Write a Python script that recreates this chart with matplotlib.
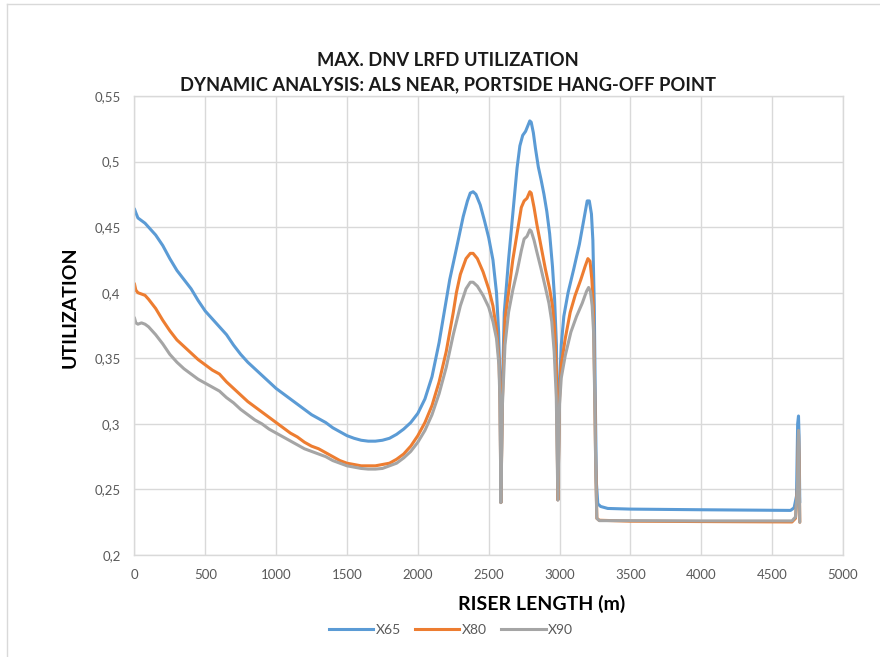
import matplotlib
matplotlib.use("Agg")
import matplotlib.pyplot as plt
from matplotlib.ticker import FuncFormatter, MultipleLocator
from matplotlib.lines import Line2D

plt.rcParams['font.family'] = ['Lato', 'DejaVu Sans']

# Riser length (m) and max utilization per steel grade
x65_len = [0, 10, 25, 50, 75, 100, 150, 200, 250, 300, 350, 400, 450, 500, 550, 600, 650,
           700, 750, 800, 850, 900, 950, 1000, 1050, 1100, 1150, 1200, 1250, 1300, 1350,
           1400, 1450, 1500, 1550, 1600, 1650, 1700, 1750, 1800, 1850, 1900, 1950, 2000,
           2050, 2100, 2150, 2178, 2225, 2272, 2320, 2350, 2370, 2390, 2410, 2440, 2470,
           2500, 2530, 2555, 2570, 2580, 2586, 2597, 2610, 2640, 2670, 2700, 2720, 2740,
           2760, 2775, 2790, 2800, 2815, 2830, 2850, 2870, 2890, 2910, 2930, 2950, 2965,
           2978, 2988, 3000, 3012, 3030, 3060, 3100, 3140, 3170, 3195, 3210, 3225, 3235,
           3245, 3252, 3260, 3270, 3290, 3340, 3500, 4000, 4630, 4655, 4672, 4680, 4686,
           4690, 4695]
x65_util = [0.464, 0.461, 0.457, 0.455, 0.453, 0.450, 0.444, 0.436, 0.426, 0.417, 0.410,
            0.403, 0.394, 0.386, 0.380, 0.374, 0.368, 0.360, 0.353, 0.347, 0.342, 0.337,
            0.332, 0.327, 0.323, 0.319, 0.315, 0.311, 0.307, 0.304, 0.301, 0.297, 0.294,
            0.291, 0.289, 0.2875, 0.2868, 0.2868, 0.2875, 0.289, 0.292, 0.296, 0.301,
            0.308, 0.319, 0.336, 0.362, 0.380, 0.410, 0.4335, 0.458, 0.470, 0.476, 0.477,
            0.475, 0.467, 0.455, 0.442, 0.425, 0.400, 0.370, 0.330, 0.240, 0.330, 0.385,
            0.425, 0.460, 0.495, 0.512, 0.520, 0.523, 0.527, 0.531, 0.530, 0.522, 0.510,
            0.496, 0.486, 0.475, 0.462, 0.445, 0.420, 0.395, 0.360, 0.242, 0.330, 0.360,
            0.382, 0.400, 0.418, 0.437, 0.455, 0.470, 0.470, 0.460, 0.440, 0.390, 0.320,
            0.255, 0.239, 0.237, 0.2355, 0.235, 0.2345, 0.234, 0.236, 0.245, 0.300, 0.306,
            0.290, 0.240]

x80_len = [0, 10, 25, 50, 75, 100, 150, 200, 250, 300, 350, 400, 450, 500, 550, 600, 650,
           700, 750, 800, 850, 900, 950, 1000, 1050, 1100, 1150, 1200, 1250, 1300, 1350,
           1400, 1450, 1500, 1550, 1600, 1650, 1700, 1750, 1800, 1850, 1900, 1950, 2000,
           2050, 2100, 2150, 2200, 2250, 2272, 2300, 2340, 2370, 2390, 2420, 2460, 2500,
           2530, 2555, 2572, 2580, 2586, 2597, 2615, 2640, 2670, 2700, 2730, 2750, 2770,
           2790, 2800, 2820, 2840, 2870, 2900, 2930, 2950, 2965, 2978, 2988, 3000, 3012,
           3040, 3075, 3110, 3150, 3180, 3200, 3215, 3228, 3238, 3246, 3255, 3263, 3280,
           3500, 4000, 4640, 4665, 4678, 4686, 4690, 4695]
x80_util = [0.407, 0.402, 0.400, 0.399, 0.398, 0.395, 0.388, 0.379, 0.371, 0.364, 0.359,
            0.354, 0.349, 0.345, 0.341, 0.338, 0.332, 0.327, 0.322, 0.317, 0.313, 0.309,
            0.305, 0.301, 0.297, 0.293, 0.290, 0.286, 0.283, 0.281, 0.278, 0.275, 0.272,
            0.270, 0.269, 0.268, 0.268, 0.268, 0.269, 0.270, 0.273, 0.277, 0.283, 0.291,
            0.301, 0.314, 0.332, 0.355, 0.385, 0.400, 0.414, 0.426, 0.430, 0.430, 0.426,
            0.416, 0.403, 0.390, 0.372, 0.350, 0.320, 0.240, 0.320, 0.380, 0.400, 0.425,
            0.445, 0.465, 0.470, 0.472, 0.477, 0.476, 0.465, 0.452, 0.435, 0.418, 0.403,
            0.390, 0.372, 0.340, 0.242, 0.320, 0.345, 0.365, 0.385, 0.398, 0.410, 0.420,
            0.426, 0.424, 0.410, 0.390, 0.340, 0.270, 0.228, 0.2265, 0.2258, 0.2255,
            0.2252, 0.228, 0.250, 0.292, 0.270, 0.225]

x90_len = [0, 10, 25, 50, 75, 100, 150, 200, 250, 300, 350, 400, 450, 500, 550, 600, 650,
           700, 750, 800, 850, 900, 950, 1000, 1050, 1100, 1150, 1200, 1250, 1300, 1350,
           1400, 1450, 1500, 1550, 1600, 1650, 1700, 1750, 1800, 1850, 1900, 1950, 2000,
           2050, 2100, 2150, 2200, 2250, 2300, 2340, 2370, 2390, 2420, 2460, 2500, 2530,
           2555, 2572, 2580, 2586, 2597, 2615, 2640, 2670, 2700, 2730, 2750, 2770, 2790,
           2800, 2820, 2840, 2870, 2900, 2925, 2945, 2962, 2977, 2988, 3000, 3012, 3040,
           3080, 3120, 3160, 3190, 3205, 3218, 3230, 3240, 3248, 3256, 3263, 3280, 3500,
           4000, 4640, 4665, 4678, 4686, 4690, 4695]
x90_util = [0.381, 0.377, 0.376, 0.377, 0.376, 0.374, 0.368, 0.361, 0.353, 0.347, 0.342,
            0.338, 0.334, 0.331, 0.328, 0.325, 0.320, 0.316, 0.311, 0.307, 0.303, 0.300,
            0.296, 0.293, 0.290, 0.287, 0.284, 0.281, 0.279, 0.277, 0.275, 0.272, 0.270,
            0.268, 0.267, 0.266, 0.2655, 0.2655, 0.266, 0.268, 0.270, 0.274, 0.279, 0.286,
            0.295, 0.307, 0.323, 0.343, 0.368, 0.390, 0.403, 0.408, 0.408, 0.405, 0.398,
            0.389, 0.378, 0.365, 0.345, 0.315, 0.240, 0.315, 0.360, 0.385, 0.402, 0.416,
            0.432, 0.441, 0.443, 0.448, 0.447, 0.440, 0.431, 0.418, 0.404, 0.392, 0.378,
            0.355, 0.320, 0.242, 0.315, 0.335, 0.352, 0.370, 0.382, 0.392, 0.401, 0.404,
            0.401, 0.390, 0.370, 0.320, 0.260, 0.228, 0.2262, 0.2262, 0.226, 0.226, 0.229,
            0.250, 0.295, 0.270, 0.225]

series_names = ['X65', 'X80', 'X90']
series_colors = ['#5B9BD5', '#ED7D31', '#A5A5A5']

W, H = 880, 657
fig = plt.figure(figsize=(W / 100, H / 100), dpi=100)
fig.patch.set_facecolor('white')

# Plot area in pixel coordinates
left, right, top, bottom = 134.4, 843, 96, 555
ax = fig.add_axes([left / W, 1 - bottom / H, (right - left) / W, (bottom - top) / H])

for xs, ys, name, col in zip([x65_len, x80_len, x90_len],
                             [x65_util, x80_util, x90_util],
                             series_names, series_colors):
    ax.plot(xs, ys, color=col, lw=2.2, label=name,
            solid_joinstyle='round', solid_capstyle='round')

ax.set_xlim(0, 5000)
ax.set_ylim(0.2, 0.55)
ax.xaxis.set_major_locator(MultipleLocator(500))
ax.yaxis.set_major_locator(MultipleLocator(0.05))
ax.yaxis.set_major_formatter(FuncFormatter(lambda v, p: f"{round(v, 2):g}".replace('.', ',')))
ax.xaxis.set_major_formatter(FuncFormatter(lambda v, p: f"{int(round(v))}"))
ax.grid(True, color='#D9D9D9', lw=1.0)
ax.set_axisbelow(True)
for s in ax.spines.values():
    s.set_color('#D9D9D9')
    s.set_linewidth(1.0)
ax.tick_params(length=0, labelsize=9.5, labelcolor='#595959', pad=10)

# Titles and axis labels
fig.text(448 / W, 1 - 60 / H, 'MAX. DNV LRFD UTILIZATION', ha='center', va='center',
         fontsize=13.2, fontweight='bold', color='#1a1a1a')
fig.text(448 / W, 1 - 85 / H, 'DYNAMIC ANALYSIS: ALS NEAR, PORTSIDE HANG-OFF POINT',
         ha='center', va='center', fontsize=13.2, fontweight='bold', color='#1a1a1a')
fig.text(542 / W, 1 - 604 / H, 'RISER LENGTH (m)', ha='center', va='center',
         fontsize=14, fontweight='bold', color='black')
fig.text(70 / W, 1 - 307 / H, 'UTILIZATION', ha='center', va='center', rotation=90,
         fontsize=14, fontweight='bold', color='black')

# Legend below the axis title
handles = [Line2D([0], [0], color=c, lw=2.2) for c in series_colors]
leg = fig.legend(handles, series_names, loc='center', bbox_to_anchor=(451 / W, 1 - 630 / H),
                 ncol=3, frameon=False, fontsize=10, handlelength=3.2, handletextpad=0.2,
                 columnspacing=1.0, labelcolor='#595959')

# Chart area border
fig.add_artist(Line2D([7 / W, 7 / W], [0, 1 - 4 / H], color='#D9D9D9', lw=1.0))
fig.add_artist(Line2D([7 / W, 1], [1 - 4 / H, 1 - 4 / H], color='#D9D9D9', lw=1.0))

fig.savefig('out.png', dpi=100, facecolor='white')
